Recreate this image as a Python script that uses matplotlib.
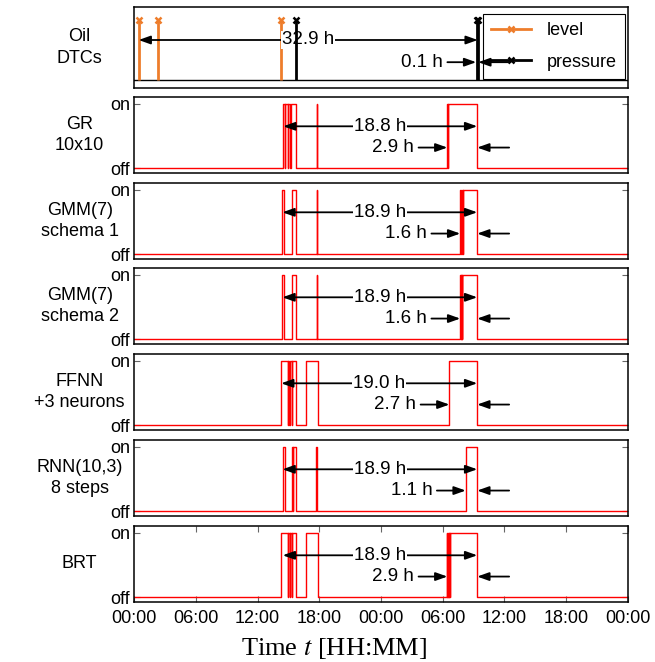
import matplotlib
matplotlib.use('Agg')
import matplotlib.pyplot as plt
from matplotlib import rcParams
from matplotlib.legend_handler import HandlerLine2D

rcParams['font.family'] = ['Liberation Sans', 'DejaVu Sans']
rcParams['mathtext.fontset'] = 'stix'

# x axis: two days in hours
hours = [0, 6, 12, 18, 24, 30, 36, 42, 48]
hour_labels = ['00:00', '06:00', '12:00', '18:00', '00:00', '06:00', '12:00', '18:00', '00:00']

# oil DTC events (hours)
level_dtc = [0.45, 2.3, 14.3]
pressure_dtc = [15.7, 33.3, 33.4]
oil_lead_total = '32.9 h'
oil_lead_last = '0.1 h'

# model alarms, given as (on, off) periods in hours
names = ['GR\n10x10', 'GMM(7)\nschema 1', 'GMM(7)\nschema 2',
         'FFNN\n+3 neurons', 'RNN(10,3)\n8 steps', 'BRT']
on_periods = [
    [(14.50, 14.68), (14.72, 14.93), (14.98, 15.16), (15.21, 15.73), (17.74, 17.80),
     (30.42, 30.47), (30.55, 33.35)],
    [(14.42, 14.62), (15.32, 15.73), (17.74, 17.80),
     (31.70, 31.78), (31.86, 31.93), (32.00, 33.35)],
    [(14.42, 14.62), (15.32, 15.73), (17.74, 17.80),
     (31.70, 31.74), (31.77, 31.81), (31.84, 31.88), (31.91, 33.35)],
    [(14.30, 14.93), (14.98, 15.09), (15.14, 15.32), (15.37, 15.73), (16.70, 17.87),
     (30.65, 33.35)],
    [(14.43, 14.69), (15.34, 15.44), (15.49, 15.73), (17.72, 17.80),
     (32.23, 33.35)],
    [(14.30, 14.93), (14.98, 15.15), (15.20, 15.32), (15.37, 15.73), (16.70, 17.87),
     (30.42, 30.46), (30.49, 30.53), (30.56, 30.60), (30.63, 30.67), (30.70, 33.35)],
]
first_alarm = [14.50, 14.42, 14.42, 14.30, 14.43, 14.45]
last_onset = [30.45, 31.70, 31.70, 30.65, 32.23, 30.45]
alarm_end = 33.35
lead_total = ['18.8 h', '18.9 h', '18.9 h', '19.0 h', '18.9 h', '18.9 h']
lead_last = ['2.9 h', '1.6 h', '1.6 h', '2.7 h', '1.1 h', '2.9 h']

orange = '#ee7d2b'
fig = plt.figure(figsize=(6.55, 6.62), dpi=100)

left, width = 134 / 655, 494 / 655


class MarkerAtEnd(HandlerLine2D):
    # legend line with the marker at its right end
    def get_xdata(self, legend, xdescent, ydescent, width, height, fontsize):
        xdata, _ = super().get_xdata(legend, xdescent, ydescent, width, height, fontsize)
        return xdata, [xdata[-1]]


def add_panel(top, bottom):
    return fig.add_axes([left, 1 - bottom / 662, width, (bottom - top) / 662])


def arrows(ax, t0, t1, y1, label1, y2, t2, label2, t3=None):
    if t3 is None:
        t3 = t1
    hp = dict(color='k', lw=1.3, shrinkA=0, shrinkB=0)
    ax.annotate('', xy=(t1, y1), xytext=(t0, y1),
                arrowprops=dict(arrowstyle='<|-|>,head_length=0.7,head_width=0.25', **hp), zorder=2)
    ax.text((t0 + t1) / 2, y1, label1, ha='center', va='center', fontsize=13.5, zorder=2.5,
            bbox=dict(facecolor='white', edgecolor='none', pad=0.5))
    ax.annotate('', xy=(t2, y2), xytext=(t2 - 2.8, y2),
                arrowprops=dict(arrowstyle='-|>,head_length=0.7,head_width=0.25', **hp))
    ax.annotate('', xy=(t3, y2), xytext=(t3 + 3.1, y2),
                arrowprops=dict(arrowstyle='-|>,head_length=0.7,head_width=0.25', **hp))
    ax.text(t2 - 3.25, y2, label2, ha='right', va='center', fontsize=13.5)


def style(ax, label):
    ax.set_xlim(0, 48)
    for s in ax.spines.values():
        s.set_linewidth(1.1)
    ax.text(-0.11, 0.5, label, transform=ax.transAxes, ha='center', va='center',
            multialignment='center', fontsize=13, linespacing=1.35)


# oil DTC panel
ax0 = add_panel(7, 88)
ax0.set_ylim(-0.13, 1.22)
ax0.axhline(0, color='k', lw=1.0)
ax0.vlines(level_dtc, 0, 1, color=orange, lw=2)
ax0.plot(level_dtc, [1] * len(level_dtc), 'x', color=orange, ms=4, mew=1.8, zorder=3)
ax0.vlines(pressure_dtc, 0, 1, color='k', lw=2, zorder=3)
ax0.plot(pressure_dtc, [1] * len(pressure_dtc), 'x', color='k', ms=4, mew=1.8, zorder=3)
ax0.plot([], [], '-x', color=orange, lw=2, ms=4, mew=1.8, label='level')
ax0.plot([], [], '-x', color='k', lw=2, ms=4, mew=1.8, label='pressure')
arrows(ax0, level_dtc[0], pressure_dtc[-1], 0.67, oil_lead_total,
       0.3, pressure_dtc[1] - 0.05, oil_lead_last, pressure_dtc[-1] + 0.05)
leg = ax0.legend(loc='upper right', bbox_to_anchor=(0.994, 0.914), borderaxespad=0,
                 fontsize=13, fancybox=False, edgecolor='k', framealpha=1,
                 handlelength=2.2, handletextpad=0.9, labelspacing=0.8, borderpad=0.45,
                 numpoints=1, handler_map={plt.Line2D: MarkerAtEnd()})
leg.get_frame().set_linewidth(0.8)
leg.set_zorder(2.8)
ax0.set_xticks([])
ax0.set_yticks([])
style(ax0, 'Oil\nDTCs')

tops = [97, 183, 268, 354, 440, 526]
for i, name in enumerate(names):
    ax = add_panel(tops[i], tops[i] + 76)
    xs, ys = [0], [0]
    for a, b in on_periods[i]:
        xs += [a, a, b, b]
        ys += [0, 1, 1, 0]
    xs.append(48)
    ys.append(0)
    ax.plot(xs, ys, color='red', lw=1.0)
    ax.set_ylim(-0.075, 1.105)
    ax.set_yticks([0, 1])
    ax.set_yticklabels(['off', 'on'], fontsize=13)
    ax.tick_params(axis='y', direction='in', length=4, right=True, color='0.4', pad=3)
    arrows(ax, first_alarm[i], alarm_end, 0.65, lead_total[i],
           0.32, last_onset[i], lead_last[i])
    style(ax, name)
    if i == len(names) - 1:
        ax.set_xticks(hours)
        ax.set_xticklabels(hour_labels, fontsize=13)
        ax.tick_params(axis='x', direction='in', length=4, top=True, color='0.4', pad=6)
    else:
        ax.set_xticks([])

fig.text(0.51, 0.02, 'Time $t$ [HH:MM]', ha='center', va='center',
         fontsize=19, family='Liberation Serif')

plt.savefig('out.png', dpi=100)
